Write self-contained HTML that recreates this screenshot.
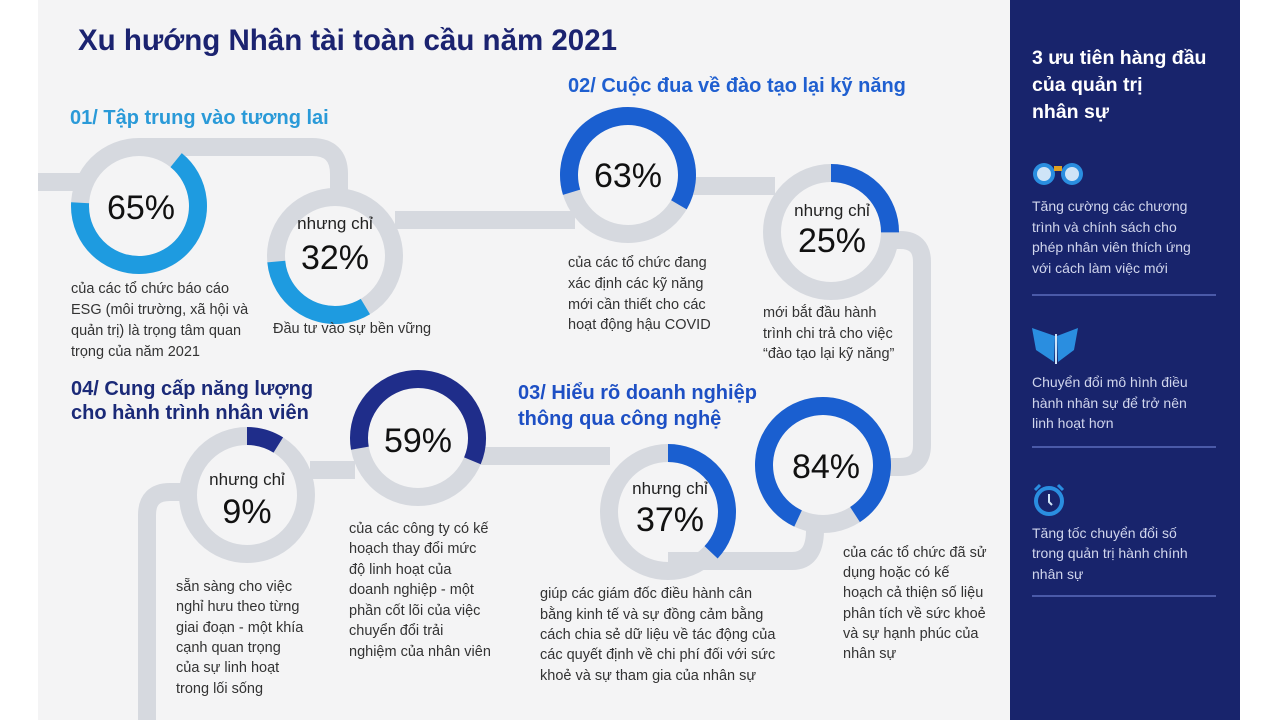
<!DOCTYPE html>
<html><head><meta charset="utf-8"><style>
html,body{margin:0;padding:0;background:#fff;}
svg{display:block;}
text{font-family:"Liberation Sans","DejaVu Sans",sans-serif;}
.b{font-size:14.5px;fill:#333;}
.p{font-size:34px;fill:#111;text-anchor:middle;}
.n{font-size:17px;fill:#222;text-anchor:middle;}
.h{font-size:20px;font-weight:bold;}
.r{font-size:14px;fill:#d0d5ec;}
</style></head><body>
<svg width="1280" height="720" viewBox="0 0 1280 720" xmlns="http://www.w3.org/2000/svg">
<rect x="38" y="0" width="972" height="720" fill="#f4f4f5"/>
<rect x="1010" y="0" width="230" height="720" fill="#18246c"/>

<g fill="none" stroke="#d6d9df" stroke-width="18">
<path d="M38 182 H80"/>
<path d="M139 147 H312 Q339 147 339 174 V200"/>
<path d="M395 220 H575"/>
<path d="M688 186 H775"/>
<path d="M890 240 H900 Q922 240 922 262 V445 Q922 467 900 467 H890"/>
<path d="M668 561 H792 Q815 561 815 530"/>
<path d="M480 456 H610"/>
<path d="M310 470 H355"/>
<path d="M182 492 H170 Q147 492 147 515 V720"/>
<circle cx="139" cy="206" r="59"/>
<circle cx="335" cy="256" r="59"/>
<circle cx="628" cy="175" r="59"/>
<circle cx="831" cy="232" r="59"/>
<circle cx="823" cy="465" r="59"/>
<circle cx="668" cy="512" r="59"/>
<circle cx="418" cy="438" r="59"/>
<circle cx="247" cy="495" r="59"/>
</g>

<g fill="none" stroke-width="18">
<circle cx="139" cy="206" r="59" stroke="#1e9be0" stroke-dasharray="241 400" transform="rotate(-51 139 206)"/>
<circle cx="335" cy="256" r="59" stroke="#1e9be0" stroke-dasharray="119 400" transform="rotate(59 335 256)"/>
<circle cx="628" cy="175" r="59" stroke="#1a5fd0" stroke-dasharray="234 400" transform="rotate(163 628 175)"/>
<circle cx="831" cy="232" r="59" stroke="#1a5fd0" stroke-dasharray="93 400" transform="rotate(-90 831 232)"/>
<circle cx="823" cy="465" r="59" stroke="#1a5fd0" stroke-dasharray="311 400" transform="rotate(115 823 465)"/>
<circle cx="668" cy="512" r="59" stroke="#1a5fd0" stroke-dasharray="137 400" transform="rotate(-90 668 512)"/>
<circle cx="418" cy="438" r="59" stroke="#1f2d8a" stroke-dasharray="219 400" transform="rotate(170 418 438)"/>
<circle cx="247" cy="495" r="59" stroke="#1f2d8a" stroke-dasharray="33 400" transform="rotate(-90 247 495)"/>
</g>

<text x="78" y="50" font-size="29.5" font-weight="bold" fill="#1b2370">Xu hướng Nhân tài toàn cầu năm 2021</text>
<text class="h" x="70" y="124" fill="#2a9ad8">01/ Tập trung vào tương lai</text>
<text class="h" x="568" y="92" fill="#1f5fd0" font-size="20.5">02/ Cuộc đua về đào tạo lại kỹ năng</text>
<text class="h" x="518" y="399" fill="#1d4fc4" font-size="20.5">03/ Hiểu rõ doanh nghiệp</text>
<text class="h" x="518" y="425" fill="#1d4fc4" font-size="20.5">thông qua công nghệ</text>
<text class="h" x="71" y="395" fill="#1b2a78">04/ Cung cấp năng lượng</text>
<text class="h" x="71" y="419" fill="#1b2a78">cho hành trình nhân viên</text>

<text class="p" x="141" y="219">65%</text>
<text class="n" x="335" y="229">nhưng chỉ</text>
<text class="p" x="335" y="269">32%</text>
<text class="p" x="628" y="187">63%</text>
<text class="n" x="832" y="216">nhưng chỉ</text>
<text class="p" x="832" y="252">25%</text>
<text class="p" x="826" y="478">84%</text>
<text class="n" x="670" y="494">nhưng chỉ</text>
<text class="p" x="670" y="531">37%</text>
<text class="p" x="418" y="452">59%</text>
<text class="n" x="247" y="485">nhưng chỉ</text>
<text class="p" x="247" y="523">9%</text>

<g class="b">
<text x="71" y="293">của các tổ chức báo cáo</text>
<text x="71" y="314">ESG (môi trường, xã hội và</text>
<text x="71" y="335">quản trị) là trọng tâm quan</text>
<text x="71" y="356">trọng của năm 2021</text>
<text x="273" y="333">Đầu tư vào sự bền vững</text>
<text x="568" y="267">của các tổ chức đang</text>
<text x="568" y="288">xác định các kỹ năng</text>
<text x="568" y="309">mới cần thiết cho các</text>
<text x="568" y="329">hoạt động hậu COVID</text>
<text x="763" y="317">mới bắt đầu hành</text>
<text x="763" y="338">trình chi trả cho việc</text>
<text x="763" y="358">“đào tạo lại kỹ năng”</text>
<text x="176" y="591">sẵn sàng cho việc</text>
<text x="176" y="611">nghỉ hưu theo từng</text>
<text x="176" y="632">giai đoạn - một khía</text>
<text x="176" y="652">cạnh quan trọng</text>
<text x="176" y="672">của sự linh hoạt</text>
<text x="176" y="693">trong lối sống</text>
<text x="349" y="533">của các công ty có kế</text>
<text x="349" y="553">hoạch thay đổi mức</text>
<text x="349" y="574">độ linh hoạt của</text>
<text x="349" y="594">doanh nghiệp - một</text>
<text x="349" y="615">phần cốt lõi của việc</text>
<text x="349" y="635">chuyển đổi trải</text>
<text x="349" y="656">nghiệm của nhân viên</text>
<text x="540" y="598">giúp các giám đốc điều hành cân</text>
<text x="540" y="619">bằng kinh tế và sự đồng cảm bằng</text>
<text x="540" y="639">cách chia sẻ dữ liệu về tác động của</text>
<text x="540" y="659">các quyết định về chi phí đối với sức</text>
<text x="540" y="680">khoẻ và sự tham gia của nhân sự</text>
<text x="843" y="557">của các tổ chức đã sử</text>
<text x="843" y="577">dụng hoặc có kế</text>
<text x="843" y="597">hoạch cả thiện số liệu</text>
<text x="843" y="618">phân tích về sức khoẻ</text>
<text x="843" y="638">và sự hạnh phúc của</text>
<text x="843" y="658">nhân sự</text>
</g>

<g fill="#fff" font-size="19.5" font-weight="bold">
<text x="1032" y="64">3 ưu tiên hàng đầu</text>
<text x="1032" y="91">của quản trị</text>
<text x="1032" y="118">nhân sự</text>
</g>
<circle cx="1044" cy="174" r="11" fill="#2a8ee0"/><circle cx="1044" cy="174" r="7" fill="#cfe4f7"/>
<circle cx="1072" cy="174" r="11" fill="#2a8ee0"/><circle cx="1072" cy="174" r="7" fill="#cfe4f7"/>
<rect x="1054" y="166" width="8" height="5" fill="#e0a020"/>
<g class="r">
<text x="1032" y="211">Tăng cường các chương</text>
<text x="1032" y="232">trình và chính sách cho</text>
<text x="1032" y="252">phép nhân viên thích ứng</text>
<text x="1032" y="273">với cách làm việc mới</text>
</g>
<line x1="1032" y1="295" x2="1216" y2="295" stroke="#4a5aa8" stroke-width="2"/>
<path d="M1055 336 L1032 328 L1036 350 L1054 362 Z M1057 336 L1078 328 L1074 350 L1058 362 Z" fill="#2a8ee0"/>
<line x1="1056" y1="334" x2="1056" y2="364" stroke="#cfe4f7" stroke-width="2"/>
<g class="r">
<text x="1032" y="387">Chuyển đổi mô hình điều</text>
<text x="1032" y="408">hành nhân sự để trở nên</text>
<text x="1032" y="428">linh hoạt hơn</text>
</g>
<line x1="1032" y1="447" x2="1216" y2="447" stroke="#4a5aa8" stroke-width="2"/>
<circle cx="1049" cy="501" r="13" fill="none" stroke="#2a8ee0" stroke-width="4"/>
<path d="M1049 494 V502 L1052 505" stroke="#cfe4f7" stroke-width="2" fill="none"/>
<path d="M1035 490 L1040 485 M1063 490 L1058 485" stroke="#2a8ee0" stroke-width="3"/>
<g class="r">
<text x="1032" y="538">Tăng tốc chuyển đổi số</text>
<text x="1032" y="558">trong quản trị hành chính</text>
<text x="1032" y="579">nhân sự</text>
</g>
<line x1="1032" y1="596" x2="1216" y2="596" stroke="#4a5aa8" stroke-width="2"/>
</svg>
</body></html>
